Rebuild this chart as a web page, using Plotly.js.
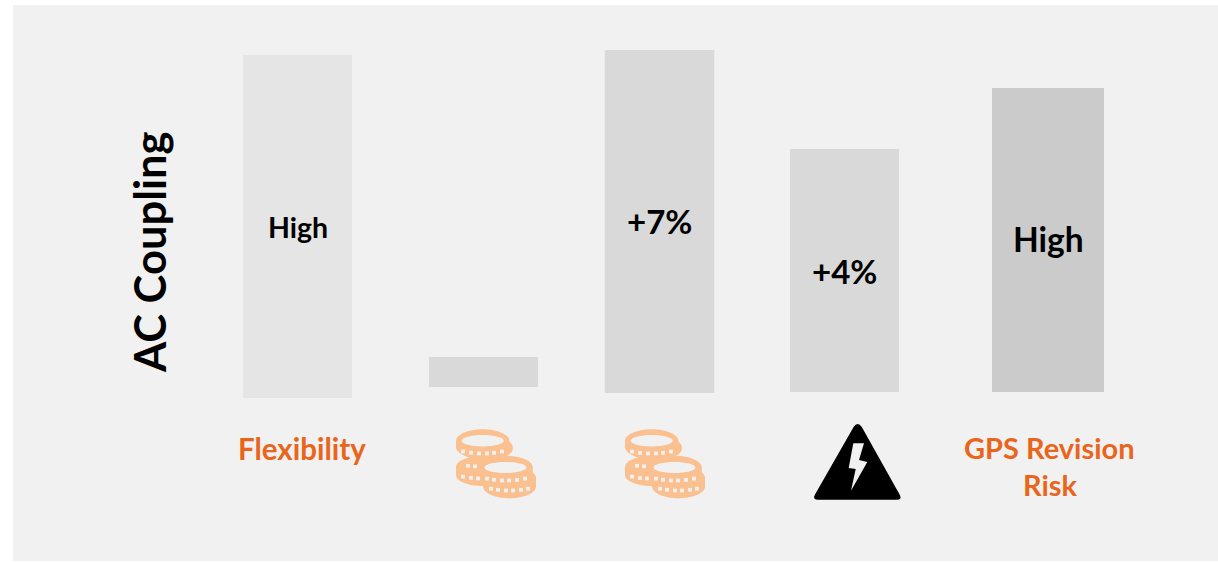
<!DOCTYPE html>
<html><head><meta charset="utf-8">
<script src="https://cdn.plot.ly/plotly-3.0.1.min.js"></script>
<style>html,body{margin:0;padding:0;background:#fff}#c{width:1218px;height:562px}</style>
</head><body><div id="c"></div>
<script>
const H = 562;
const categories = ["Flexibility", "Cost A", "Cost B", "Risk", "GPS Revision Risk"];
const barCenters = [297.5, 483.5, 659.5, 844.5, 1048];
const barWidths = [109, 109, 109.5, 109, 112];
const barTops = [55, 357, 50, 149, 88];
const barBottoms = [398, 387, 393, 392, 392];
const barColors = ["#e5e5e5", "#d9d9d9", "#d9d9d9", "#d9d9d9", "#cbcbcb"];
const barLabels = ["High", "", "+7%", "+4%", "High"];
const barLabelY = [226.5, 0, 221, 271, 239];
const barLabelSize = [28.5, 0, 33, 33, 33.5];
const ORANGE = "#e9651b", COIN = "#fbc08f", PANEL = "#f1f1f1";

const F = y => H - y;
const fmt = (x, y) => x.toFixed(2) + "," + F(y).toFixed(2);
const K = 0.5523;
function ell(cx, cy, rx, ry) {
  const kx = rx * K, ky = ry * K;
  return "M" + fmt(cx - rx, cy) +
    "C" + fmt(cx - rx, cy - ky) + " " + fmt(cx - kx, cy - ry) + " " + fmt(cx, cy - ry) +
    "C" + fmt(cx + kx, cy - ry) + " " + fmt(cx + rx, cy - ky) + " " + fmt(cx + rx, cy) +
    "C" + fmt(cx + rx, cy + ky) + " " + fmt(cx + kx, cy + ry) + " " + fmt(cx, cy + ry) +
    "C" + fmt(cx - kx, cy + ry) + " " + fmt(cx - rx, cy + ky) + " " + fmt(cx - rx, cy) + "Z";
}
function poly(p) { return "M" + p.map(a => fmt(a[0], a[1])).join("L") + "Z"; }
const shape = (path, fill) => ({type: "path", xref: "x", yref: "y", layer: "above", path, fillcolor: fill, line: {width: 0}});
function stack(out, cx, top, bottom, rx, ry) {
  out.push(shape(ell(cx, top, rx, ry), COIN));
  out.push(shape(ell(cx, bottom, rx, ry), COIN));
  out.push(shape(poly([[cx - rx, top], [cx + rx, top], [cx + rx, bottom], [cx - rx, bottom]]), COIN));
}
function dots(out, xs, y, curve, cx) {
  xs.forEach(x => {
    const d = (x - cx) / 24, yy = y - curve * d * d;
    out.push(shape(poly([[x - 1.9, yy - 1.9], [x + 1.9, yy - 1.9], [x + 1.9, yy + 1.9], [x - 1.9, yy + 1.9]]), PANEL));
  });
}
function coins(dx) {
  const o = [];
  stack(o, 482.7 + dx, 467, 475, 26.7, 11);
  stack(o, 486 + dx, 447, 449, 26.7, 11);
  stack(o, 482.7 + dx, 441, 447, 26.7, 11.7);
  dots(o, [463, 471, 479, 487, 494, 502].map(v => v + dx), 453.5, 3, 482.7 + dx);
  dots(o, [468, 475].map(v => v + dx), 466.5, 2, 482 + dx);
  dots(o, [463, 471, 478].map(v => v + dx), 478.5, 3, 482 + dx);
  o.push(shape(ell(482.7 + dx, 440.7, 21, 5.7), PANEL));
  stack(o, 509.5 + dx, 478, 486.5, 26.5, 11.7);
  stack(o, 506 + dx, 467.5, 473, 26.7, 11.7);
  dots(o, [487, 494, 502, 509, 517, 525].map(v => v + dx), 480.5, 3, 506 + dx);
  dots(o, [491, 498, 506, 513, 521, 528].map(v => v + dx), 490.5, 3, 509.5 + dx);
  o.push(shape(ell(505.4 + dx, 467.5, 21, 5.5), PANEL));
  return o;
}
const tri = "M" + fmt(853.6, 427) + "Q" + fmt(857.7, 421.2) + " " + fmt(861.8, 427) +
  "L" + fmt(899.6, 494.5) + "Q" + fmt(902.6, 499.8) + " " + fmt(896.5, 499.8) +
  "L" + fmt(818.5, 499.8) + "Q" + fmt(812, 499.8) + " " + fmt(815, 494.5) + "Z";
const bolt = poly([[853.3, 443.3], [864, 443.3], [859, 460], [867.3, 462], [851, 490.7], [855.7, 469], [848.7, 468]]);

const shapes = [
  {type: "rect", xref: "x", yref: "y", layer: "below", x0: 13, x1: 1218, y0: F(5), y1: F(561), fillcolor: PANEL, line: {width: 0}},
  ...coins(0), ...coins(169),
  shape(tri, "#000000"), shape(bolt, PANEL)
];
const font = (size, color) => ({family: "Lato, Carlito, sans-serif", size, color, weight: 700});
const note = (x, y, text, size, color, extra) => Object.assign({
  xref: "x", yref: "y", x, y: F(y), text: "<b>" + text + "</b>", showarrow: false,
  xanchor: "center", yanchor: "middle", font: font(size, color)
}, extra || {});
const annotations = [
  note(149, 252, "AC Coupling", 43.5, "#000000", {textangle: -90}),
  note(301.5, 448.5, "Flexibility", 29.5, ORANGE),
  note(1049.5, 447.5, "GPS Revision", 29, ORANGE),
  note(1050, 484.5, "Risk", 29, ORANGE)
];
barLabels.forEach((t, i) => { if (t) annotations.push(note(barCenters[i], barLabelY[i], t, barLabelSize[i], "#000000")); });

Plotly.newPlot("c", [{
  type: "bar",
  x: barCenters,
  y: barTops.map((t, i) => barBottoms[i] - t),
  base: barBottoms.map(F),
  width: barWidths,
  marker: {color: barColors, line: {width: 0}},
  text: categories,
  textposition: "none",
  hoverinfo: "text"
}], {
  width: 1218, height: 562,
  margin: {l: 0, r: 0, t: 0, b: 0, pad: 0},
  paper_bgcolor: "#ffffff", plot_bgcolor: "rgba(0,0,0,0)",
  showlegend: false,
  xaxis: {range: [0, 1218], visible: false, fixedrange: true},
  yaxis: {range: [0, H], visible: false, fixedrange: true},
  shapes, annotations
}, {displayModeBar: false, staticPlot: true});
</script></body></html>
